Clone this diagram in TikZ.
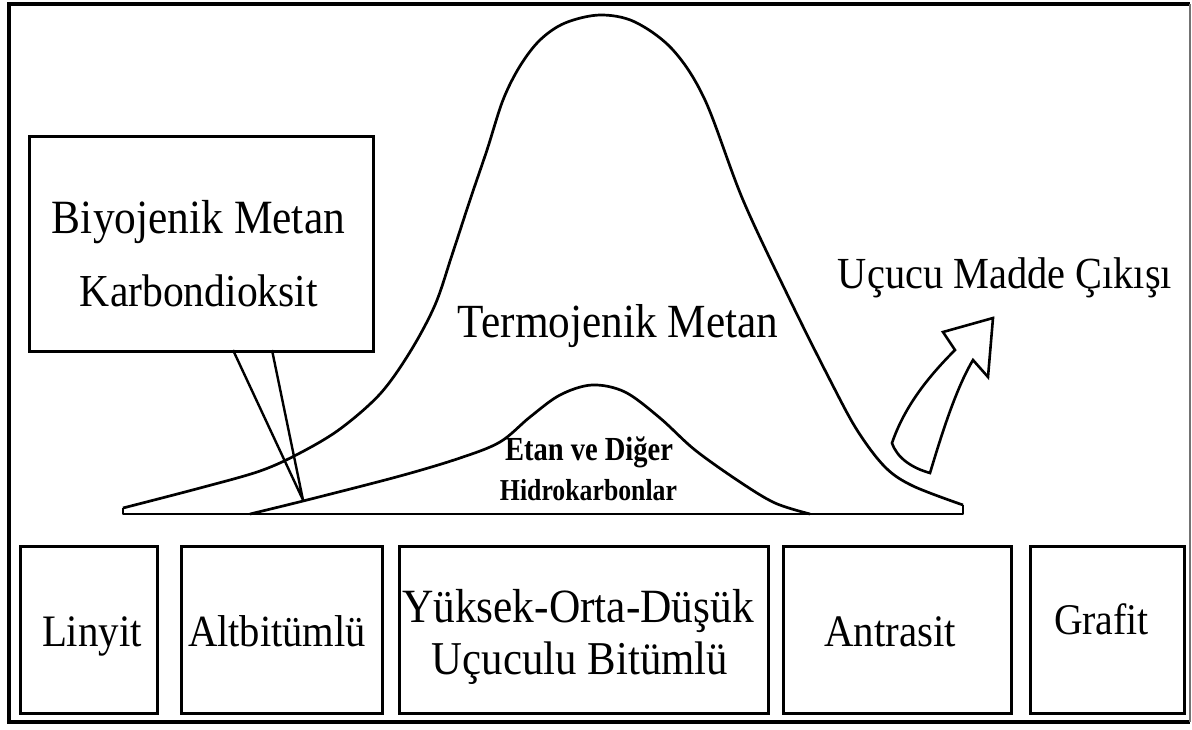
\documentclass[tikz,border=0pt]{standalone}
\usepackage{fontspec}
\setmainfont{Liberation Serif}
\usepackage{graphicx}
\newcommand{\fitw}[2]{\scalebox{1}[1.1]{\resizebox{#1pt}{!}{#2}}}
\newcommand{\fitws}[2]{\scalebox{1}[1.18]{\resizebox{#1pt}{!}{#2}}}
\tikzset{
  frameline/.style={line width=4pt, black},
  coalbox/.style={draw, line width=2.8pt, rectangle, inner sep=0pt, anchor=north west},
  curveline/.style={line width=2.7pt, line join=round},
  lbl/.style={inner sep=0pt, anchor=base, font=\fontsize{40}{48}\selectfont},
  smalllbl/.style={inner sep=0pt, anchor=base, font=\bfseries\fontsize{24}{28}\selectfont},
}
\begin{document}
\begin{tikzpicture}[x=1pt,y=-1pt]
\useasboundingbox (0,0) rectangle (1192,729);
% outer frame
\draw[frameline] (9,722) -- (9,4) -- (1190,4);
\draw[frameline] (7,722) -- (1190,722);
\draw[line width=1.5pt, black!55] (1190,4) -- (1190,722);

% callout box
\node[coalbox, minimum width=344pt, minimum height=215pt] (bio) at (28,135) {};
\node[lbl] (bio1) at (198.5,233) {\fitw{293}{Biyojenik Metan}};
\node[lbl] (bio2) at (199,306) {\fitw{238}{Karbondioksit}};
\coordinate (p1) at (233,350);
\coordinate (p2) at (272,350);
\coordinate (apex) at (303,500);
\draw[line width=2.4pt, line join=round] (p1) -- (apex) -- (p2);

% base
\draw[curveline] (123,508) -- (123,514) -- (963,514) -- (963,505);
% big curve (termojenik)
\draw[curveline] plot[smooth, tension=0.55] coordinates {
 (123,508) (200,488) (260,471) (300,453) (340,429) (380,394) (410,352)
 (435,305) (452,255) (470,200) (487,150) (503,100) (520,66) (540,40)
 (565,23) (600,15) (635,22) (673,50)
 (705,100) (743,200) (790,300) (830,380) (857,430) (885,467) (913,486) (963,505)};
% small curve (etan)
\draw[curveline] plot[smooth, tension=0.55] coordinates {
 (250,514) (307,500) (400,476) (460,458) (500,442) (530,417) (560,395)
 (592,385) (625,392) (660,418) (695,450) (740,482) (775,503) (810,514)};

\node[lbl] (termo) at (618,337) {\fitw{320}{Termojenik Metan}};
\node[smalllbl] (etan1) at (589,460) {\fitws{168}{Etan ve Diğer}};
\node[smalllbl] (etan2) at (588.5,500) {\fitws{177}{Hidrokarbonlar}};
\node[lbl] (ucucu) at (1005,288) {\fitw{334}{Uçucu Madde Çıkışı}};

% hollow curved arrow
\draw[line width=2.6pt, line join=miter] (993,318) -- (943,332) -- (955,350)
  .. controls (930,375) and (905,405) .. (892,443)
  .. controls (897,458) and (912,468) .. (930,473)
  .. controls (940,440) and (955,390) .. (973,360)
  -- (988,377) -- cycle;

% coal rank boxes
\node[coalbox, minimum width=137pt, minimum height=167pt] (linyit) at (19,545) {};
\node[coalbox, minimum width=201pt, minimum height=167pt] (altbit) at (180,545) {};
\node[coalbox, minimum width=369pt, minimum height=167pt] (yuksek) at (398,545) {};
\node[coalbox, minimum width=228pt, minimum height=167pt] (antrasit) at (782,545) {};
\node[coalbox, minimum width=154pt, minimum height=167pt] (grafit) at (1029,545) {};

\node[lbl] (linyitt) at (92,646) {\fitw{100}{Linyit}};
\node[lbl] (altbitt) at (277,646) {\fitw{178}{Altbitümlü}};
\node[lbl] (yuksek1) at (578,622) {\fitw{352}{Yüksek-Orta-Düşük}};
\node[lbl] (yuksek2) at (580,674) {\fitw{296}{Uçuculu Bitümlü}};
\node[lbl] (antrasitt) at (890,646) {\fitw{132}{Antrasit}};
\node[lbl] (grafitt) at (1101.5,634) {\fitw{95}{Grafit}};
\end{tikzpicture}
\end{document}
